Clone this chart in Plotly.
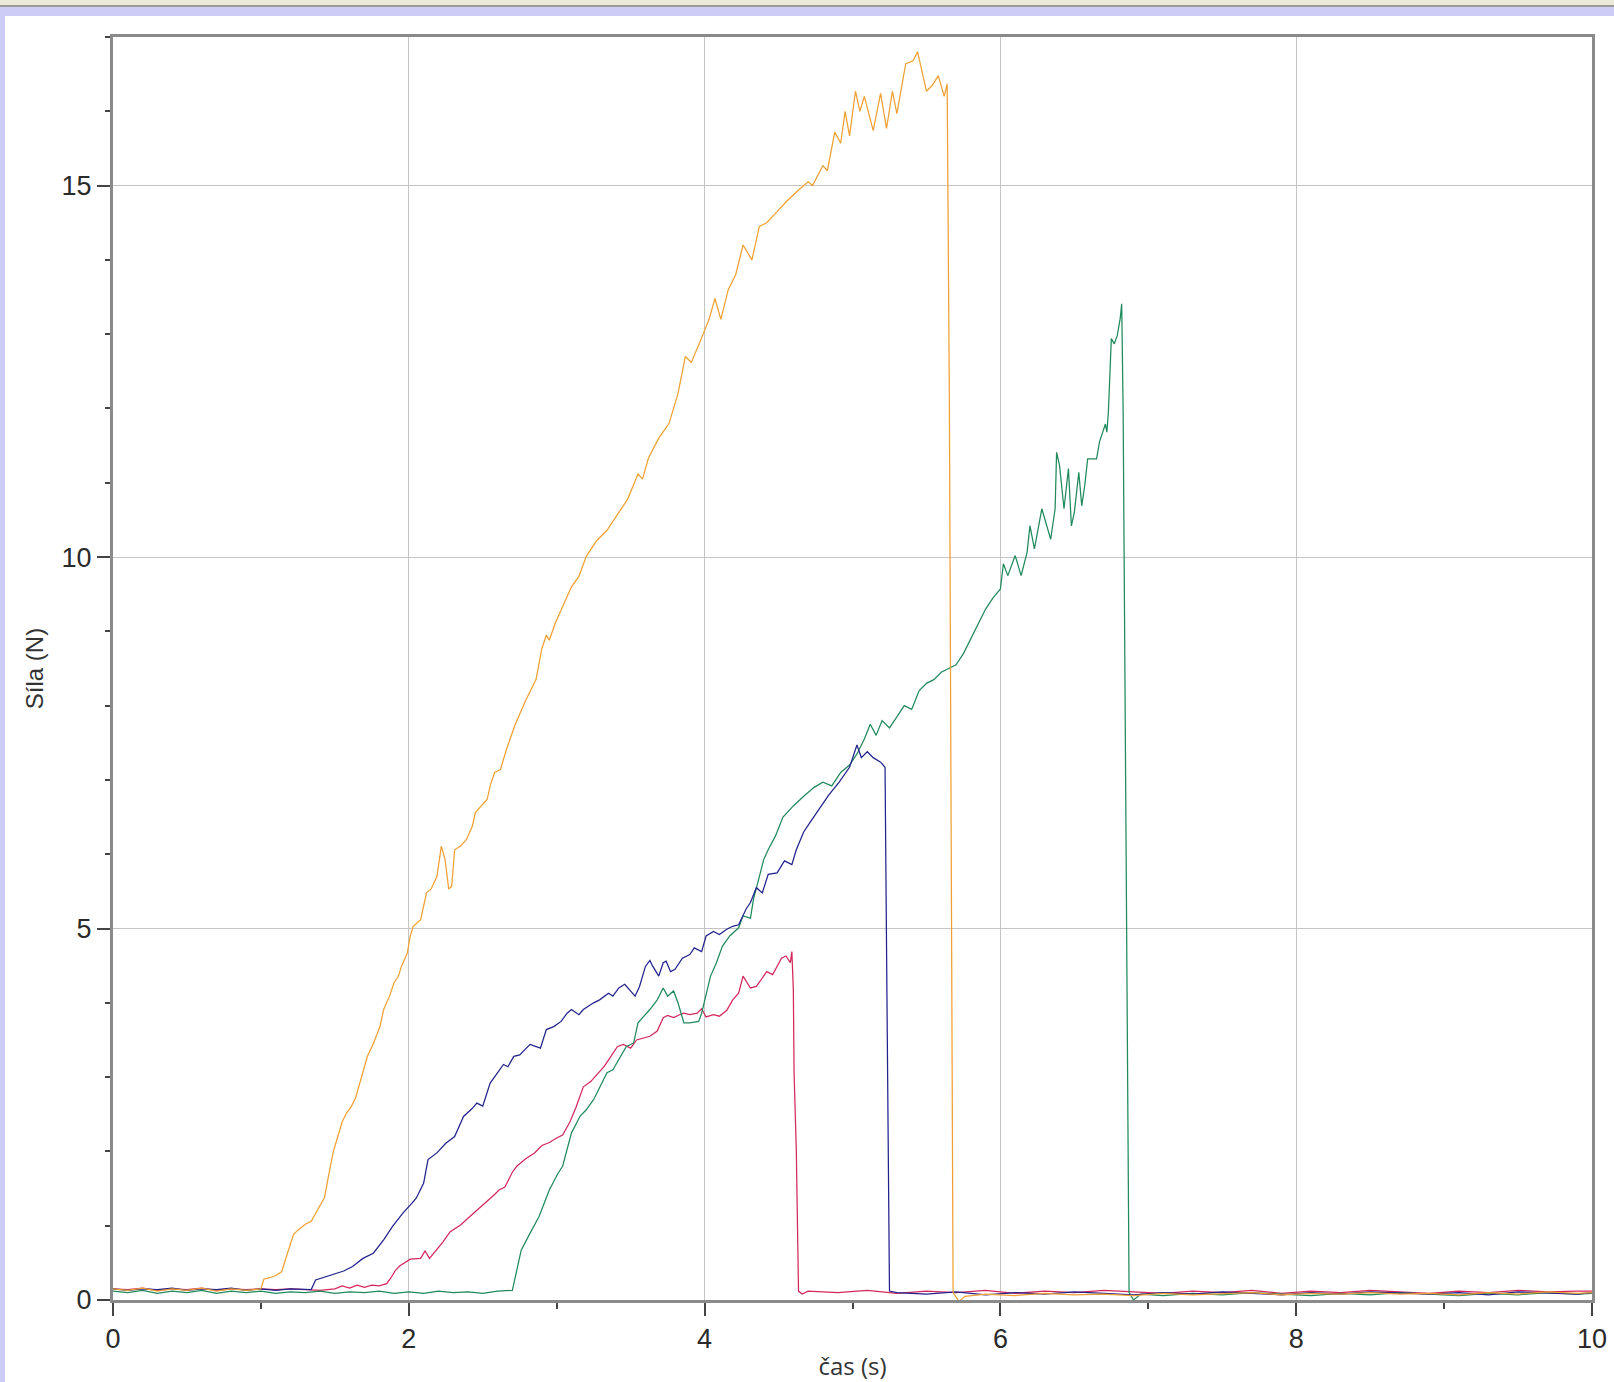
import plotly.graph_objects as go

# ---------------- data ----------------
t_orange = [0.00, 0.10, 0.20, 0.30, 0.40, 0.50, 0.60, 0.70, 0.80, 0.90, 1.00,
            1.02, 1.06, 1.10, 1.14, 1.18, 1.22, 1.25, 1.30, 1.34, 1.38, 1.43, 1.46, 1.49, 1.52, 1.55,
            1.58, 1.61, 1.64, 1.68, 1.72, 1.76, 1.805, 1.83, 1.87, 1.90, 1.93, 1.95, 1.99, 2.01,
            2.03, 2.08, 2.10, 2.12, 2.15, 2.19, 2.22, 2.245, 2.27, 2.29, 2.31, 2.35, 2.39, 2.43,
            2.45, 2.48, 2.53, 2.55, 2.58, 2.62, 2.66, 2.72, 2.79, 2.86, 2.90, 2.93, 2.95, 2.99,
            3.05, 3.10, 3.15, 3.20, 3.27, 3.34, 3.41, 3.48, 3.55, 3.58, 3.62, 3.69, 3.76, 3.82,
            3.87, 3.91, 3.97, 4.03, 4.07, 4.11, 4.16, 4.21, 4.26, 4.32, 4.37, 4.42, 4.49, 4.56,
            4.63, 4.70, 4.73, 4.80, 4.83, 4.88, 4.92, 4.95, 4.98, 5.02, 5.05, 5.08, 5.14, 5.19,
            5.23, 5.27, 5.30, 5.36, 5.41, 5.44, 5.50, 5.54, 5.58, 5.62, 5.64, 5.655, 5.68, 5.72,
            5.76, 5.90, 6.10, 6.30, 6.50, 6.70, 6.90, 7.10, 7.30, 7.50, 7.70, 7.90, 8.10, 8.30,
            8.50, 8.70, 8.90, 9.10, 9.30, 9.50, 9.70, 9.90, 10.00]
f_orange = [0.15, 0.13, 0.16, 0.12, 0.15, 0.13, 0.16, 0.12, 0.15, 0.13, 0.15,
            0.28, 0.30, 0.33, 0.38, 0.62, 0.88, 0.94, 1.02, 1.06, 1.20, 1.38, 1.70, 2.00, 2.20, 2.40,
            2.52, 2.60, 2.72, 3.00, 3.28, 3.45, 3.68, 3.91, 4.09, 4.27, 4.36, 4.49, 4.67, 4.90,
            5.03, 5.12, 5.30, 5.48, 5.53, 5.70, 6.11, 5.93, 5.53, 5.57, 6.06, 6.11, 6.20, 6.38,
            6.56, 6.63, 6.74, 6.92, 7.10, 7.14, 7.41, 7.75, 8.07, 8.35, 8.77, 8.95, 8.88, 9.11,
            9.39, 9.60, 9.74, 10.01, 10.22, 10.36, 10.57, 10.78, 11.12, 11.05, 11.33, 11.60, 11.80, 12.20,
            12.70, 12.62, 12.90, 13.20, 13.48, 13.20, 13.60, 13.80, 14.20, 14.00, 14.45, 14.50, 14.65, 14.80,
            14.93, 15.05, 15.00, 15.27, 15.20, 15.72, 15.57, 16.00, 15.67, 16.27, 16.00, 16.20, 15.74, 16.24,
            15.77, 16.27, 15.97, 16.64, 16.68, 16.80, 16.27, 16.35, 16.48, 16.20, 16.37, 12.10, 0.10, -0.02,
            0.05, 0.08, 0.06, 0.09, 0.07, 0.08, 0.06, 0.09, 0.07, 0.08, 0.10, 0.07, 0.09, 0.08,
            0.10, 0.08, 0.09, 0.07, 0.10, 0.08, 0.11, 0.09, 0.10]

t_blue = [0.00, 0.10, 0.20, 0.30, 0.40, 0.50, 0.60, 0.70, 0.80, 0.90, 1.00, 1.10, 1.20, 1.30, 1.34,
          1.37, 1.42, 1.49, 1.56, 1.62, 1.69, 1.76, 1.83, 1.89, 1.96, 2.02, 2.05, 2.10, 2.13,
          2.19, 2.25, 2.31, 2.37, 2.43, 2.46, 2.50, 2.55, 2.59, 2.64, 2.67, 2.71, 2.75, 2.82,
          2.89, 2.93, 2.98, 3.03, 3.07, 3.10, 3.15, 3.18, 3.25, 3.29, 3.35, 3.38, 3.42, 3.46,
          3.53, 3.56, 3.60, 3.63, 3.65, 3.69, 3.72, 3.74, 3.77, 3.80, 3.85, 3.90, 3.93, 3.98,
          4.01, 4.06, 4.10, 4.15, 4.19, 4.23, 4.28, 4.31, 4.35, 4.39, 4.43, 4.49, 4.54, 4.59,
          4.62, 4.67, 4.72, 4.77, 4.84, 4.91, 4.98, 5.03, 5.06, 5.10, 5.14, 5.19, 5.22, 5.235,
          5.25, 5.30, 5.50, 5.70, 5.90, 6.10, 6.30, 6.50, 6.70, 6.90, 7.10, 7.30, 7.50, 7.70,
          7.90, 8.10, 8.30, 8.50, 8.70, 8.90, 9.10, 9.30, 9.50, 9.70, 9.90, 10.00]
f_blue = [0.15, 0.13, 0.15, 0.14, 0.16, 0.13, 0.15, 0.14, 0.16, 0.13, 0.15, 0.13, 0.15, 0.14, 0.14,
          0.27, 0.30, 0.34, 0.39, 0.45, 0.56, 0.63, 0.81, 0.99, 1.17, 1.30, 1.37, 1.57, 1.89,
          1.98, 2.11, 2.20, 2.47, 2.58, 2.65, 2.61, 2.92, 3.03, 3.17, 3.14, 3.28, 3.30, 3.44,
          3.39, 3.64, 3.68, 3.75, 3.86, 3.91, 3.84, 3.91, 4.00, 4.04, 4.13, 4.09, 4.20, 4.25,
          4.09, 4.22, 4.49, 4.57, 4.49, 4.36, 4.54, 4.56, 4.42, 4.45, 4.60, 4.65, 4.74, 4.69,
          4.90, 4.96, 4.92, 4.99, 5.03, 5.05, 5.26, 5.35, 5.55, 5.48, 5.73, 5.75, 5.91, 5.86,
          6.06, 6.30, 6.45, 6.60, 6.80, 6.97, 7.17, 7.47, 7.30, 7.38, 7.30, 7.24, 7.17, 3.60,
          0.12, 0.10, 0.08, 0.11, 0.07, 0.10, 0.08, 0.11, 0.09, 0.07, 0.10, 0.08, 0.11, 0.09,
          0.07, 0.10, 0.08, 0.11, 0.09, 0.08, 0.10, 0.07, 0.11, 0.09, 0.08, 0.10]

t_red = [0.00, 0.10, 0.20, 0.30, 0.40, 0.50, 0.60, 0.70, 0.80, 0.90, 1.00, 1.10, 1.20, 1.30, 1.40,
         1.50, 1.55, 1.60, 1.65, 1.70, 1.75, 1.80, 1.85, 1.88, 1.91, 1.94, 2.01, 2.08, 2.11,
         2.14, 2.19, 2.23, 2.28, 2.35, 2.40, 2.44, 2.49, 2.53, 2.58, 2.61, 2.65, 2.70, 2.73,
         2.79, 2.85, 2.90, 2.95, 3.00, 3.04, 3.09, 3.13, 3.18, 3.23, 3.27, 3.32, 3.36, 3.41,
         3.45, 3.50, 3.54, 3.59, 3.63, 3.68, 3.72, 3.75, 3.79, 3.83, 3.86, 3.90, 3.95, 3.98,
         4.01, 4.06, 4.10, 4.15, 4.19, 4.23, 4.26, 4.31, 4.35, 4.42, 4.46, 4.52, 4.55, 4.58,
         4.59, 4.60, 4.605, 4.62, 4.635, 4.66, 4.70, 4.90, 5.10, 5.30, 5.50, 5.70, 5.90, 6.10,
         6.30, 6.50, 6.70, 6.90, 7.10, 7.30, 7.50, 7.70, 7.90, 8.10, 8.30, 8.50, 8.70, 8.90,
         9.10, 9.30, 9.50, 9.70, 9.90, 10.00]
f_red = [0.15, 0.14, 0.16, 0.13, 0.15, 0.14, 0.16, 0.13, 0.15, 0.14, 0.15, 0.14, 0.15, 0.14, 0.13,
         0.15, 0.19, 0.16, 0.20, 0.17, 0.20, 0.19, 0.22, 0.30, 0.40, 0.46, 0.55, 0.56, 0.66,
         0.56, 0.68, 0.78, 0.92, 1.01, 1.10, 1.17, 1.25, 1.33, 1.42, 1.48, 1.52, 1.72, 1.80,
         1.90, 1.98, 2.08, 2.12, 2.18, 2.22, 2.40, 2.59, 2.87, 2.94, 3.03, 3.14, 3.26, 3.41,
         3.44, 3.39, 3.50, 3.53, 3.55, 3.62, 3.80, 3.83, 3.80, 3.84, 3.86, 3.84, 3.86, 3.92,
         3.81, 3.84, 3.82, 3.90, 4.04, 4.13, 4.36, 4.20, 4.22, 4.42, 4.38, 4.60, 4.63, 4.54,
         4.69, 4.18, 3.06, 2.02, 0.12, 0.08, 0.12, 0.10, 0.13, 0.09, 0.12, 0.10, 0.13, 0.09,
         0.12, 0.10, 0.13, 0.11, 0.09, 0.12, 0.10, 0.13, 0.09, 0.12, 0.10, 0.13, 0.11, 0.09,
         0.12, 0.10, 0.13, 0.11, 0.12, 0.12]

t_green = [0.00, 0.10, 0.20, 0.30, 0.40, 0.50, 0.60, 0.70, 0.80, 0.90, 1.00, 1.10, 1.20, 1.30, 1.40,
           1.50, 1.60, 1.70, 1.80, 1.90, 2.00, 2.10, 2.20, 2.30, 2.40, 2.50, 2.60, 2.70,
           2.73, 2.76, 2.82, 2.88, 2.95, 3.01, 3.04, 3.10, 3.16, 3.20, 3.25, 3.29, 3.34, 3.38,
           3.43, 3.47, 3.52, 3.55, 3.59, 3.63, 3.68, 3.72, 3.75, 3.79, 3.82, 3.86, 3.90, 3.96,
           3.98, 4.01, 4.04, 4.08, 4.12, 4.17, 4.23, 4.26, 4.31, 4.33, 4.36, 4.40, 4.43, 4.48,
           4.53, 4.60, 4.67, 4.74, 4.80, 4.86, 4.92, 4.98, 5.03, 5.08, 5.12, 5.16, 5.20, 5.25,
           5.30, 5.35, 5.40, 5.45, 5.50, 5.55, 5.60, 5.65, 5.70, 5.75, 5.80, 5.85, 5.90, 5.95,
           6.00, 6.02, 6.05, 6.10, 6.14, 6.18, 6.20, 6.23, 6.28, 6.34, 6.37, 6.38, 6.40, 6.43,
           6.45, 6.46, 6.48, 6.50, 6.53, 6.55, 6.57, 6.59, 6.65, 6.67, 6.71, 6.72, 6.73, 6.74,
           6.75, 6.77, 6.79, 6.81, 6.82, 6.83, 6.84, 6.855, 6.87, 6.90, 6.95, 7.10, 7.30, 7.50,
           7.70, 7.90, 8.10, 8.30, 8.50, 8.70, 8.90, 9.10, 9.30, 9.50, 9.70, 9.90, 10.00]
f_green = [0.12, 0.10, 0.13, 0.09, 0.12, 0.10, 0.13, 0.09, 0.12, 0.10, 0.12, 0.09, 0.11, 0.10, 0.12,
           0.09, 0.11, 0.10, 0.12, 0.09, 0.11, 0.09, 0.12, 0.10, 0.11, 0.09, 0.12, 0.13,
           0.40, 0.67, 0.90, 1.12, 1.48, 1.71, 1.80, 2.25, 2.48, 2.56, 2.70, 2.87, 3.06, 3.10,
           3.28, 3.41, 3.46, 3.73, 3.82, 3.91, 4.04, 4.20, 4.09, 4.16, 4.00, 3.73, 3.73, 3.75,
           3.86, 4.11, 4.36, 4.54, 4.76, 4.90, 5.01, 5.17, 5.14, 5.39, 5.62, 5.93, 6.06, 6.25,
           6.50, 6.65, 6.78, 6.90, 6.97, 6.92, 7.10, 7.20, 7.35, 7.55, 7.75, 7.60, 7.80, 7.70,
           7.85, 8.00, 7.95, 8.20, 8.30, 8.35, 8.45, 8.50, 8.55, 8.70, 8.90, 9.10, 9.30, 9.45,
           9.57, 9.91, 9.75, 10.02, 9.75, 10.06, 10.42, 10.11, 10.65, 10.24, 10.65, 11.41, 11.23, 10.65,
           10.96, 11.19, 10.42, 10.60, 11.14, 10.69, 10.96, 11.32, 11.32, 11.55, 11.79, 11.68, 11.95, 12.44,
           12.94, 12.87, 12.98, 13.21, 13.41, 11.95, 8.98, 5.60, 0.10, 0.00, 0.08, 0.06, 0.09, 0.07,
           0.10, 0.08, 0.06, 0.09, 0.07, 0.10, 0.08, 0.06, 0.09, 0.07, 0.10, 0.08, 0.09]

x_ticks = [0, 2, 4, 6, 8, 10]
x_tick_text = ["0", "2", "4", "6", "8", "10"]
y_ticks = [0, 5, 10, 15]
y_tick_text = ["0", "5", "10", "15"]

series = [
    (t_red, f_red, "#D4285C"),
    (t_green, f_green, "#1F8A5C"),
    (t_blue, f_blue, "#22228E"),
    (t_orange, f_orange, "#F0A032"),
]

fig = go.Figure()
for tx, fy, col in series:
    fig.add_trace(go.Scatter(x=tx, y=fy, mode="lines",
                             line=dict(color=col, width=1.25), showlegend=False,
                             hoverinfo="skip"))

W, H = 1614, 1382
L, R, T, B = 113, 22, 37, 82
pw, ph = W - L - R, H - T - B


def px(x):
    return (x - L) / pw


def py(y):
    return (H - B - y) / ph


shapes = [
    dict(type="rect", xref="paper", yref="paper", x0=px(0), x1=px(W), y0=py(5), y1=py(0),
         fillcolor="#ECE9D8", line=dict(width=0), layer="below"),
    dict(type="rect", xref="paper", yref="paper", x0=px(0), x1=px(W), y0=py(7), y1=py(5),
         fillcolor="#9A9A9A", line=dict(width=0), layer="below"),
    dict(type="rect", xref="paper", yref="paper", x0=px(0), x1=px(W), y0=py(16), y1=py(7),
         fillcolor="#CCCCF6", line=dict(width=0), layer="below"),
    dict(type="rect", xref="paper", yref="paper", x0=px(0), x1=px(5), y0=py(H), y1=py(16),
         fillcolor="#CCCCF6", line=dict(width=0), layer="below"),
]

axis_font = dict(family="Liberation Sans, Arial, sans-serif", size=27, color="#2A2A2A")

fig.update_layout(
    width=W, height=H,
    margin=dict(l=L, r=R, t=T, b=B, autoexpand=False),
    paper_bgcolor="white",
    plot_bgcolor="white",
    shapes=shapes,
    xaxis=dict(
        range=[0, 10], tickmode="array", tickvals=x_ticks, ticktext=x_tick_text,
        showgrid=True, gridcolor="#C4C4C4", gridwidth=1,
        showline=True, linecolor="#8A8A8A", linewidth=3, mirror=True,
        ticks="outside", ticklen=13, tickwidth=2, tickcolor="#444444",
        minor=dict(ticks="outside", ticklen=6, tickwidth=2, tickcolor="#444444", dtick=1, showgrid=False),
        tickfont=axis_font, zeroline=False, automargin=False,
        title=dict(text="čas (s)", font=dict(family="Open Sans, Noto Sans, sans-serif", size=24, color="#333333"),
                   standoff=8),
    ),
    yaxis=dict(
        range=[0, 17], tickmode="array", tickvals=y_ticks, ticktext=y_tick_text,
        showgrid=True, gridcolor="#C4C4C4", gridwidth=1,
        showline=True, linecolor="#8A8A8A", linewidth=3, mirror=True,
        ticks="outside", ticklen=13, tickwidth=2, tickcolor="#444444",
        minor=dict(ticks="outside", ticklen=5, tickwidth=2, tickcolor="#444444", dtick=1, showgrid=False),
        tickfont=axis_font, zeroline=False, automargin=False,
        title=dict(text="Síla (N)", font=dict(family="Liberation Sans, Arial, sans-serif", size=24, color="#333333"),
                   standoff=12),
    ),
)

fig.write_html("out.html", config={"displayModeBar": False},
               post_script="document.body.style.margin='0';document.body.style.overflow='hidden';")
